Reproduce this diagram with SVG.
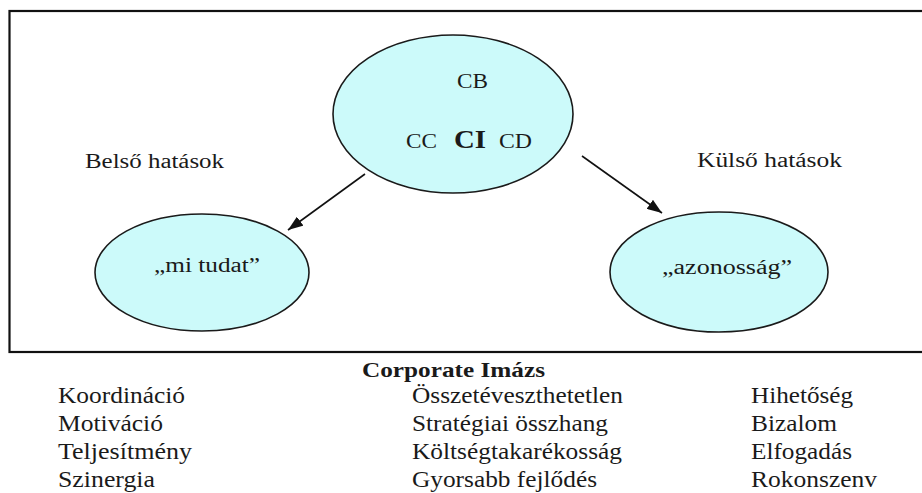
<svg xmlns="http://www.w3.org/2000/svg" width="922" height="493" viewBox="0 0 922 493">
<style>
text{font-family:'Liberation Serif','Times New Roman','DejaVu Serif',serif;fill:#1a1a1a;}
.e{fill:#ccfafa;stroke:#1a1a1a;stroke-width:1.6;}
.c{stroke:#111;stroke-width:1.6;fill:none;}
</style>
<defs>
<marker id="ah" viewBox="0 0 10 10" refX="10" refY="5" markerWidth="15" markerHeight="11" markerUnits="userSpaceOnUse" orient="auto" preserveAspectRatio="none">
<path d="M0,0 L10,5 L0,10 z" fill="#111"/>
</marker>
</defs>
<rect width="922" height="493" fill="#fff"/>
<rect id="frame" x="9.5" y="11" width="930" height="341" fill="none" stroke="#111" stroke-width="2.2"/>
<g id="connectors">
<line class="c" x1="365" y1="174" x2="288" y2="230" marker-end="url(#ah)"/>
<line class="c" x1="582" y1="156" x2="662" y2="213" marker-end="url(#ah)"/>
</g>
<g id="node-ci">
<ellipse class="e" cx="453" cy="114" rx="120" ry="79"/>
<text x="472.5" y="88" font-size="20" text-anchor="middle" textLength="31" lengthAdjust="spacingAndGlyphs">CB</text>
<text x="406" y="148" font-size="20" textLength="31" lengthAdjust="spacingAndGlyphs">CC</text>
<text x="454" y="148" font-size="26" font-weight="bold" textLength="32" lengthAdjust="spacingAndGlyphs">CI</text>
<text x="499" y="148" font-size="20" textLength="33" lengthAdjust="spacingAndGlyphs">CD</text>
</g>
<g id="label-belso">
<text x="85" y="168" font-size="20" textLength="139" lengthAdjust="spacingAndGlyphs">Belső hatások</text>
</g>
<g id="label-kulso">
<text x="697" y="167" font-size="20" textLength="145" lengthAdjust="spacingAndGlyphs">Külső hatások</text>
</g>
<g id="node-mi-tudat">
<ellipse class="e" cx="202" cy="272.5" rx="107" ry="58.5"/>
<text x="154" y="272" font-size="20" textLength="106" lengthAdjust="spacingAndGlyphs">„mi tudat”</text>
</g>
<g id="node-azonossag">
<ellipse class="e" cx="719" cy="272" rx="109" ry="60"/>
<text x="662" y="274" font-size="20" textLength="130" lengthAdjust="spacingAndGlyphs">„azonosság”</text>
</g>
<g id="legend">
<text x="362" y="377" font-size="21" font-weight="bold" textLength="183" lengthAdjust="spacingAndGlyphs">Corporate Imázs</text>
<text x="58" y="403" font-size="23" textLength="127" lengthAdjust="spacingAndGlyphs">Koordináció</text>
<text x="58" y="431" font-size="23" textLength="105" lengthAdjust="spacingAndGlyphs">Motiváció</text>
<text x="58" y="459" font-size="23" textLength="134" lengthAdjust="spacingAndGlyphs">Teljesítmény</text>
<text x="58" y="487" font-size="23" textLength="97" lengthAdjust="spacingAndGlyphs">Szinergia</text>
<text x="412" y="403" font-size="23" textLength="211" lengthAdjust="spacingAndGlyphs">Összetéveszthetetlen</text>
<text x="412" y="431" font-size="23" textLength="196" lengthAdjust="spacingAndGlyphs">Stratégiai összhang</text>
<text x="412" y="459" font-size="23" textLength="210" lengthAdjust="spacingAndGlyphs">Költségtakarékosság</text>
<text x="412" y="487" font-size="23" textLength="185" lengthAdjust="spacingAndGlyphs">Gyorsabb fejlődés</text>
<text x="751" y="403" font-size="23" textLength="102" lengthAdjust="spacingAndGlyphs">Hihetőség</text>
<text x="751" y="431" font-size="23" textLength="86" lengthAdjust="spacingAndGlyphs">Bizalom</text>
<text x="751" y="459" font-size="23" textLength="101" lengthAdjust="spacingAndGlyphs">Elfogadás</text>
<text x="751" y="487" font-size="23" textLength="126" lengthAdjust="spacingAndGlyphs">Rokonszenv</text>
</g>
</svg>
